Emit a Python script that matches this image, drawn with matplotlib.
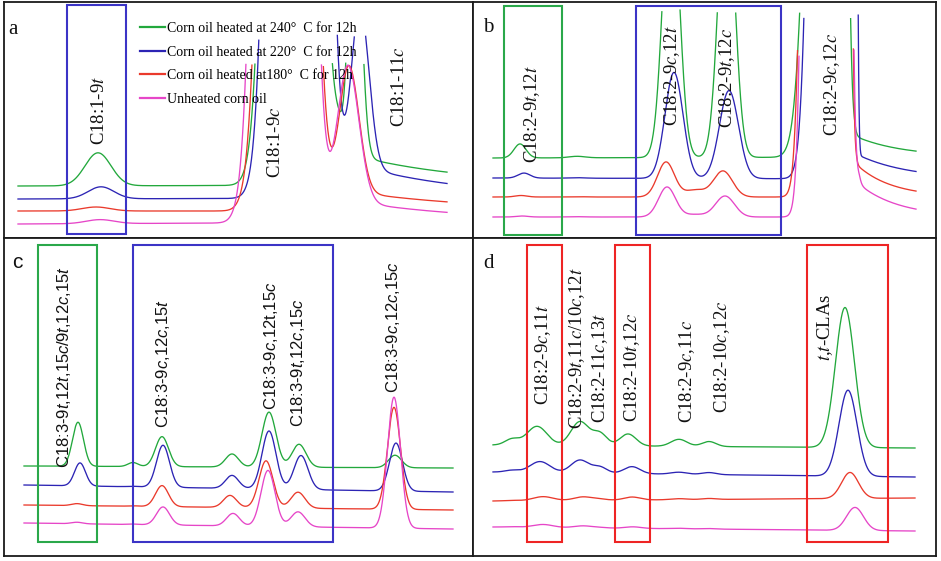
import numpy as np
import matplotlib
matplotlib.use("Agg")
import matplotlib.pyplot as plt
from matplotlib.patches import Rectangle
from matplotlib.lines import Line2D

plt.rcParams["mathtext.fontset"] = "custom"
plt.rcParams["mathtext.rm"] = "Liberation Sans"
plt.rcParams["mathtext.it"] = "Liberation Sans:italic"

# ---------------- series ----------------
series_labels = ["Corn oil heated at 240°  C for 12h",
                 "Corn oil heated at 220°  C for 12h",
                 "Corn oil heated at180°  C for 12h",
                 "Unheated corn oil"]
series_colors = ["#22a83c", "#2c24b4", "#ea3a2c", "#e646c8"]

# ---------------- panel a (C18:1) ----------------
a_span = [18, 447]
a_base0 = [186, 199, 211, 224]
a_base1 = [185, 198, 211, 222]
a_ceiling = [63, 35, 63, 63]
a_pos = [[98, 101, 96, 100], [293, 298, 287.5, 283.5], [354, 360, 349, 348], 340]
a_top = [0, 0, 0, 0]
a_sigl = [[13, 13, 14, 14], 15, [5, 9, 10, 11], 7]
a_sigr = [[13, 13, 14, 14], 15, [6.5, 9, 10, 11], 7]
a_hgt = [[33, 12, 4, 4], [3040, 4820, 2430, 3660], [300, 160, 125, 135], [45, 0, 0, 0]]
a_tail_pos = [354, 360, 349, 348]
a_tail_amp = [30, 32, 20, 22]
a_tail_tau = [110, 110, 125, 120]
a_tail_rise = [5, 9, 10, 11]
a_labels = ["C18:1-9$t$", "C18:1-9$c$", "C18:1-11$c$"]
a_label_x = [100, 276, 400]
a_label_y = [110, 142, 87]

# ---------------- panel b (C18:2) ----------------
b_span = [493, 916]
b_base0 = [158, 178, 197, 217]
b_base1 = [157, 179, 197, 217]
b_ceiling = [10, 13, 45, 47]
b_pos = [[520, 524, 521, 522], 577, [671, 674, 666, 667], 695,
         [726.5, 729, 723, 725], [822, 825.5, 815, 820]]
b_top = [0, 0, 0, 0, 0, [20, 28.5, 31, 18]]
b_sigl = [6, 8, [8, 9, 8.5, 8.5], 10, [8, 9.5, 9.5, 9.5], [12, 10, 8, 8]]
b_sigr = [6, 8, [8, 9, 8.5, 8.5], 10, [8, 9.5, 9.5, 9.5], [4.5, 1.9, 3.3, 6.1]]
b_hgt = [[14, 5, 1.5, 1], [1.5, 0.5, 0.3, 0.3], [280, 106, 35, 30],
         [0, 0, 7, 2.5], [280, 88, 26, 21], [820, 1670, 1600, 5070]]
b_tail_pos = [855, 858, 857, 860]
b_tail_amp = [21, 24, 32, 32]
b_tail_tau = [48, 50, 35, 40]
b_tail_rise = [3, 3, 3, 3]
b_labels = ["C18:2-9$t$,12$t$", "C18:2-9$c$,12$t$", "C18:2-9$t$,12$c$", "C18:2-9$c$,12$c$"]
b_label_x = [532, 672, 727, 832]
b_label_y = [114, 76, 78, 84]

# ---------------- panel c (C18:3) ----------------
c_span = [24, 453]
c_base0 = [466, 485, 505, 523]
c_base1 = [468, 492, 510, 529]
c_pos = [[78, 80, 77, 77], 133, [162, 163, 162, 163], [232, 232, 230, 233],
         [269, 269, 266, 268], [299, 301, 298, 298], [395, 396, 394, 394]]
c_sig = [5.5, 5, 6.5, 6.5, 7, 7, 6.5]
c_hgt = [[44, 23, 2, 1.5], [4, 0.5, 0.5, 0.5], [30, 42, 21, 18], [13, 13, 12, 12.5],
         [55, 58, 47, 56], [23, 34, 16, 15], [12.5, 48, 102, 131]]
c_labels = ["C18:3-9$t$,12$t$,15$c$/9$t$,12$c$,15$t$", "C18:3-9$c$,12$c$,15$t$",
            "C18:3-9$c$,12t,15$c$", "C18:3-9$t$,12$c$,15$c$", "C18:3-9$c$,12$c$,15$c$"]
c_label_x = [64, 163, 271, 298, 393]
c_label_y = [367, 363, 346, 363, 327]

# ---------------- panel d (CLA) ----------------
d_span = [493, 915]
d_base0 = [445, 472, 501, 527]
d_base1 = [448, 477, 498, 531]
d_pos = [512, [537, 540, 543, 543], [580, 580, 583, 583], 600,
         [628, 632, 632, 633], 679, 709, [845, 848, 850, 855]]
d_sig = [7, 10, 9, 7, 8, 8, 7, [9.5, 9, 8.5, 8.5]]
d_hgt = [[6, 2, 0.5, 0.5], [19, 11, 4, 3], [24, 13, 3.5, 2], [12, 6, 1, 0.5],
         [12, 7, 3, 1.5], [7, 2, 1, 0.5], [5, 2, 1, 0.5], [140, 86, 26, 23]]
d_labels = ["C18:2-9$c$,11$t$", "C18:2-9$t$,11$c$/10$c$,12$t$", "C18:2-11$c$,13$t$",
            "C18:2-10$t$,12$c$", "C18:2-9$c$,11$c$", "C18:2-10$c$,12$c$", "$t$,$t$-CLAs"]
d_label_x = [543, 577, 600, 632, 687, 722, 825]
d_label_y = [355, 348, 368, 367, 371, 357, 327]

# ---------------- layout (pixels of the 941x561 canvas) ----------------
W, H = 941, 561
frames = {"a": (4, 2, 473, 238), "b": (473, 2, 936, 238),
          "c": (4, 238, 473, 556), "d": (473, 238, 936, 556)}
letter_pos = {"a": (13, 30), "b": (488, 27), "c": (17, 263), "d": (489, 263)}
BLUE_BOX, GREEN_BOX, RED_BOX = "#3b34c6", "#2aa84a", "#ee2424"
boxes = {"a": [(67, 5, 126, 234, BLUE_BOX)],
         "b": [(504, 6, 562, 235, GREEN_BOX), (636, 6, 781, 235, BLUE_BOX)],
         "c": [(38, 245, 97, 542, GREEN_BOX), (133, 245, 333, 542, BLUE_BOX)],
         "d": [(527, 245, 562, 542, RED_BOX), (615, 245, 650, 542, RED_BOX),
               (807, 245, 888, 542, RED_BOX)]}


def row4(v):
    return np.broadcast_to(np.asarray(v, float), (4,))


def signal(x, k, pos, hgt, sigl, sigr=None, top=None,
           t_pos=None, t_amp=None, t_tau=None, t_rise=None):
    s = np.zeros_like(x)
    for i in range(len(pos)):
        p = row4(pos[i])[k]
        h = row4(hgt[i])[k]
        sl = row4(sigl[i])[k]
        sr = row4(sigr[i] if sigr is not None else sigl[i])[k]
        w = row4(top[i] if top is not None else 0)[k]
        y = np.full_like(x, h)
        lm = x < p
        rm = x > p + w
        y[lm] = h * np.exp(-0.5 * ((x[lm] - p) / sl) ** 2)
        y[rm] = h * np.exp(-0.5 * ((x[rm] - p - w) / sr) ** 2)
        s += y
    if t_pos is not None:
        tp, ta, tt, tr = t_pos[k], t_amp[k], t_tau[k], t_rise[k]
        y = ta * np.exp(-(x - tp) / tt)
        lm = x < tp
        y[lm] = ta * np.exp(-0.5 * ((x[lm] - tp) / tr) ** 2)
        s += y
    return s


panels = {
    "a": dict(span=a_span, b0=a_base0, b1=a_base1, ceil=a_ceiling,
              kw=dict(pos=a_pos, hgt=a_hgt, sigl=a_sigl, sigr=a_sigr, top=a_top,
                      t_pos=a_tail_pos, t_amp=a_tail_amp, t_tau=a_tail_tau, t_rise=a_tail_rise),
              labels=a_labels, lx=a_label_x, ly=a_label_y, serif=True),
    "b": dict(span=b_span, b0=b_base0, b1=b_base1, ceil=b_ceiling,
              kw=dict(pos=b_pos, hgt=b_hgt, sigl=b_sigl, sigr=b_sigr, top=b_top,
                      t_pos=b_tail_pos, t_amp=b_tail_amp, t_tau=b_tail_tau, t_rise=b_tail_rise),
              labels=b_labels, lx=b_label_x, ly=b_label_y, serif=True),
    "c": dict(span=c_span, b0=c_base0, b1=c_base1, ceil=None,
              kw=dict(pos=c_pos, hgt=c_hgt, sigl=c_sig),
              labels=c_labels, lx=c_label_x, ly=c_label_y, serif=False),
    "d": dict(span=d_span, b0=d_base0, b1=d_base1, ceil=None,
              kw=dict(pos=d_pos, hgt=d_hgt, sigl=d_sig),
              labels=d_labels, lx=d_label_x, ly=d_label_y, serif=True),
}

fig = plt.figure(figsize=(W / 100, H / 100), dpi=100)
fig.patch.set_facecolor("white")

axes = {}
for name, (L, T, R, B) in frames.items():
    ax = fig.add_axes([L / W, 1 - B / H, (R - L) / W, (B - T) / H])
    ax.set_xlim(L, R)
    ax.set_ylim(B, T)
    ax.set_xticks([])
    ax.set_yticks([])
    for sp in ax.spines.values():
        sp.set_linewidth(1.3)
        sp.set_color("#1a1a1a")
    axes[name] = ax

    P = panels[name]
    x = np.linspace(P["span"][0], P["span"][1], 2000)
    for k in range(4):
        base = P["b0"][k] + (P["b1"][k] - P["b0"][k]) * (x - x[0]) / (x[-1] - x[0])
        y = base - signal(x, k, **P["kw"])
        if P["ceil"] is not None:
            y = np.where(y < P["ceil"][k], np.nan, y)
        ax.plot(x, y, color=series_colors[k], lw=0.95, zorder=3)

    for (x0, y0, x1, y1, col) in boxes[name]:
        ax.add_patch(Rectangle((x0, y0), x1 - x0, y1 - y0, fill=False,
                               edgecolor=col, lw=1.5, zorder=4))

    if P["serif"]:
        tkw = dict(family="Liberation Serif", math_fontfamily="stix", fontsize=13.5)
        lkw = dict(family="Liberation Serif", fontsize=15)
    else:
        tkw = dict(family="Liberation Sans", math_fontfamily="custom", fontsize=12)
        lkw = dict(family="Liberation Sans", fontsize=15)
    for s, lx, ly in zip(P["labels"], P["lx"], P["ly"]):
        ax.text(lx, ly, s, rotation=90, ha="center", va="center",
                color="#111111", zorder=5, **tkw)
    ax.text(*letter_pos[name], name, ha="center", va="center", color="#111111",
            zorder=5, **lkw)

handles = [Line2D([0], [0], color=c, lw=1.6) for c in series_colors]
leg = axes["a"].legend(handles, series_labels, loc="upper left",
                       bbox_to_anchor=((140 - 4) / 469, 1 - (22 - 2) / 236),
                       frameon=False, handlelength=1.8, handletextpad=0.15,
                       labelspacing=0.76, borderpad=0, borderaxespad=0,
                       prop=dict(family="Liberation Serif", size=10))
leg.set_zorder(6)

fig.savefig("out.png", dpi=100)
